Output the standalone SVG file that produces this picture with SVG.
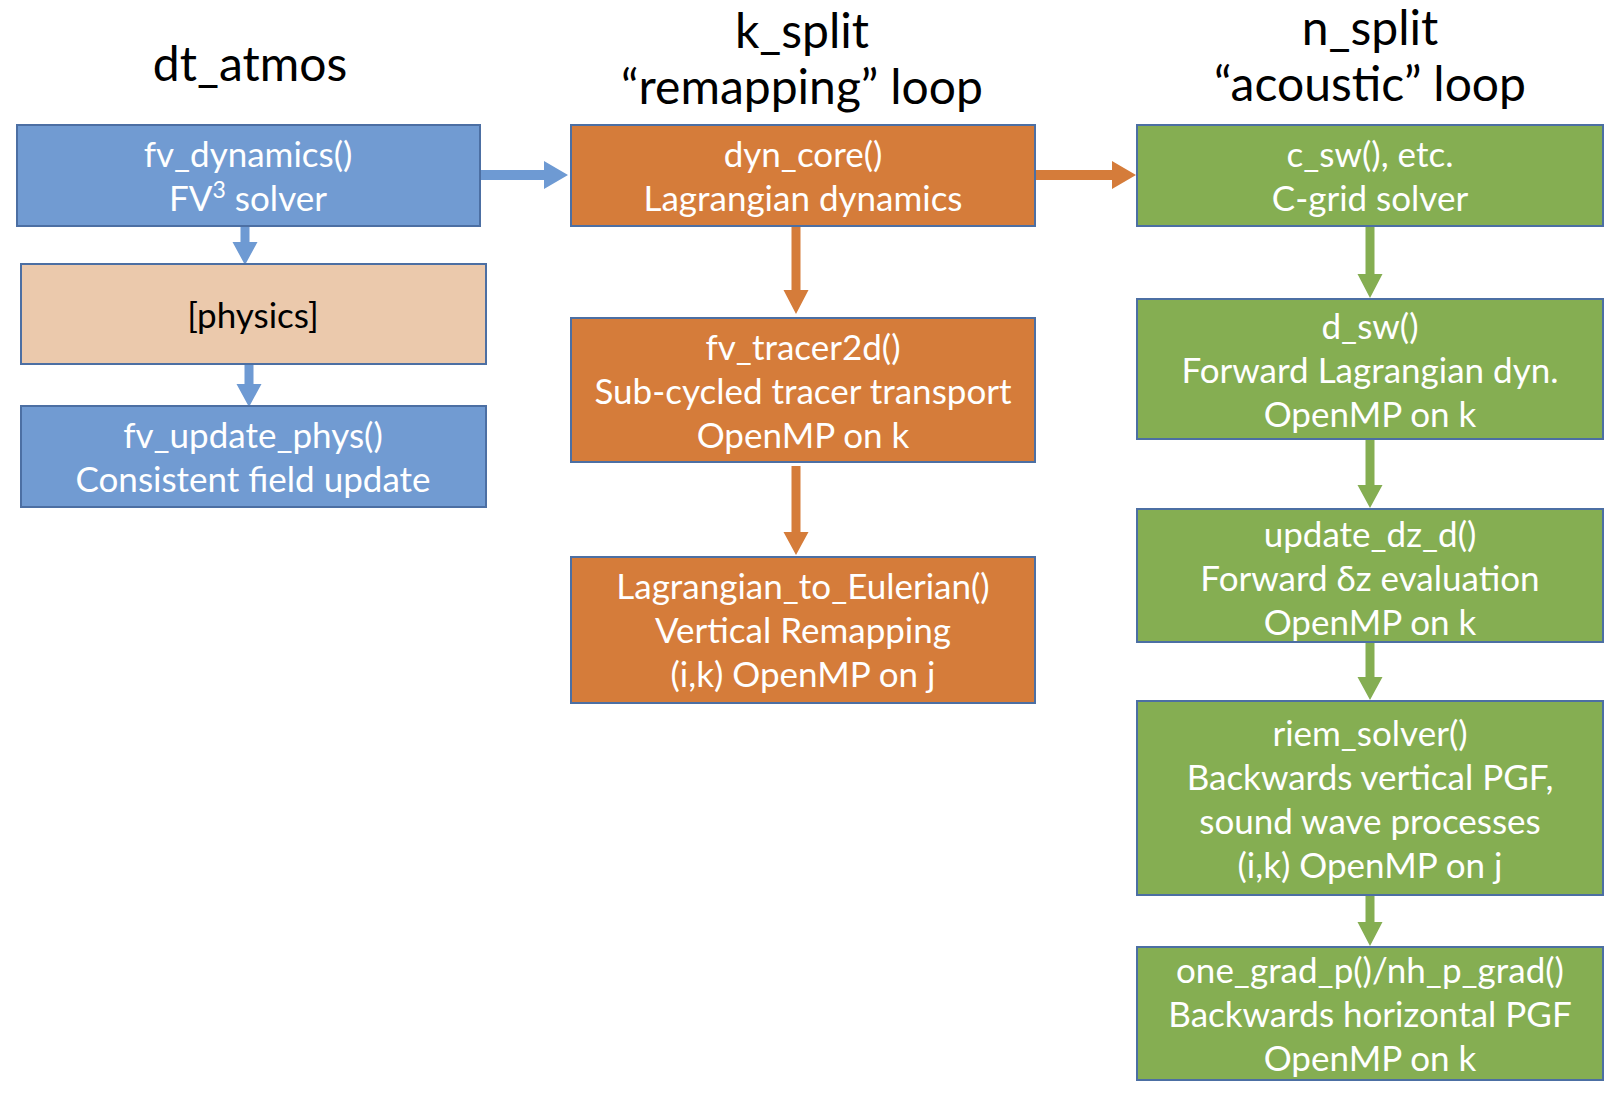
<svg xmlns="http://www.w3.org/2000/svg" width="1617" height="1093" viewBox="0 0 1617 1093">
<style>
.box{stroke:#4C6FA3;stroke-width:2}
.blue{fill:#719BD2}
.peach{fill:#EBC9AC}
.orange{fill:#D57C3A}
.green{fill:#85AE52}
text{font-family:Lato,"Liberation Sans",sans-serif;text-anchor:middle}
.t{font-size:35px;fill:#FFFFFF}
.dk{font-size:35px;fill:#000000}
.h{font-size:48px;fill:#000000}
.ab{fill:#6E9AD3}
.ao{fill:#D57C3A}
.ag{fill:#85AE52}
</style>
<rect width="1617" height="1093" fill="#FFFFFF"/>
<g id="titles">
<text class="h" x="250" y="81">dt_atmos</text>
<text class="h" x="802" y="48">k_split</text>
<text class="h" x="802" y="104">“remapping” loop</text>
<text class="h" x="1370" y="45">n_split</text>
<text class="h" x="1370" y="101">“acoustic” loop</text>
</g>
<g id="connectors">
<polygon class="ab" points="480,170 544,170 544,161 568,175 544,189 544,180 480,180"/>
<polygon class="ao" points="1035,170 1112,170 1112,161 1136,175 1112,189 1112,180 1035,180"/>
<polygon class="ab" points="240.5,227 249.5,227 249.5,242 257.5,242 245,265 232.5,242 240.5,242"/>
<polygon class="ab" points="244.5,365 253.5,365 253.5,384 261.5,384 249,407 236.5,384 244.5,384"/>
<polygon class="ao" points="791.5,227 800.5,227 800.5,290 808.5,290 796,314 783.5,290 791.5,290"/>
<polygon class="ao" points="791.5,466 800.5,466 800.5,532 808.5,532 796,555 783.5,532 791.5,532"/>
<polygon class="ag" points="1365.5,227 1374.5,227 1374.5,274 1382.5,274 1370,298 1357.5,274 1365.5,274"/>
<polygon class="ag" points="1365.5,440 1374.5,440 1374.5,485 1382.5,485 1370,508 1357.5,485 1365.5,485"/>
<polygon class="ag" points="1365.5,643 1374.5,643 1374.5,677 1382.5,677 1370,700 1357.5,677 1365.5,677"/>
<polygon class="ag" points="1365.5,896 1374.5,896 1374.5,922 1382.5,922 1370,946 1357.5,922 1365.5,922"/>
</g>
<g id="fv_dynamics">
<rect class="box blue" x="17" y="125" width="463" height="101"/>
<text class="t" x="248" y="167">fv_dynamics()</text>
<text class="t" x="248" y="211">FV<tspan font-size="23" dy="-13">3</tspan><tspan dy="13"> solver</tspan></text>
</g>
<g id="physics">
<rect class="box peach" x="21" y="264" width="465" height="100"/>
<text class="dk" x="253" y="328">[physics]</text>
</g>
<g id="fv_update_phys">
<rect class="box blue" x="21" y="406" width="465" height="101"/>
<text class="t" x="253" y="448">fv_update_phys()</text>
<text class="t" x="253" y="492">Consistent field update</text>
</g>
<g id="dyn_core">
<rect class="box orange" x="571" y="125" width="464" height="101"/>
<text class="t" x="803" y="167">dyn_core()</text>
<text class="t" x="803" y="211">Lagrangian dynamics</text>
</g>
<g id="fv_tracer2d">
<rect class="box orange" x="571" y="318" width="464" height="144"/>
<text class="t" x="803" y="360">fv_tracer2d()</text>
<text class="t" x="803" y="404">Sub-cycled tracer transport</text>
<text class="t" x="803" y="448">OpenMP on k</text>
</g>
<g id="lagrangian_to_eulerian">
<rect class="box orange" x="571" y="557" width="464" height="146"/>
<text class="t" x="803" y="599">Lagrangian_to_Eulerian()</text>
<text class="t" x="803" y="643">Vertical Remapping</text>
<text class="t" x="803" y="687">(i,k) OpenMP on j</text>
</g>
<g id="c_sw">
<rect class="box green" x="1137" y="125" width="466" height="101"/>
<text class="t" x="1370" y="167">c_sw(), etc.</text>
<text class="t" x="1370" y="211">C-grid solver</text>
</g>
<g id="d_sw">
<rect class="box green" x="1137" y="299" width="466" height="140"/>
<text class="t" x="1370" y="339">d_sw()</text>
<text class="t" x="1370" y="383">Forward Lagrangian dyn.</text>
<text class="t" x="1370" y="427">OpenMP on k</text>
</g>
<g id="update_dz_d">
<rect class="box green" x="1137" y="509" width="466" height="133"/>
<text class="t" x="1370" y="547">update_dz_d()</text>
<text class="t" x="1370" y="591">Forward δz evaluation</text>
<text class="t" x="1370" y="635">OpenMP on k</text>
</g>
<g id="riem_solver">
<rect class="box green" x="1137" y="701" width="466" height="194"/>
<text class="t" x="1370" y="746">riem_solver()</text>
<text class="t" x="1370" y="790">Backwards vertical PGF,</text>
<text class="t" x="1370" y="834">sound wave processes</text>
<text class="t" x="1370" y="878">(i,k) OpenMP on j</text>
</g>
<g id="one_grad_p">
<rect class="box green" x="1137" y="947" width="466" height="133"/>
<text class="t" x="1370" y="983">one_grad_p()/nh_p_grad()</text>
<text class="t" x="1370" y="1027">Backwards horizontal PGF</text>
<text class="t" x="1370" y="1071">OpenMP on k</text>
</g>
</svg>
